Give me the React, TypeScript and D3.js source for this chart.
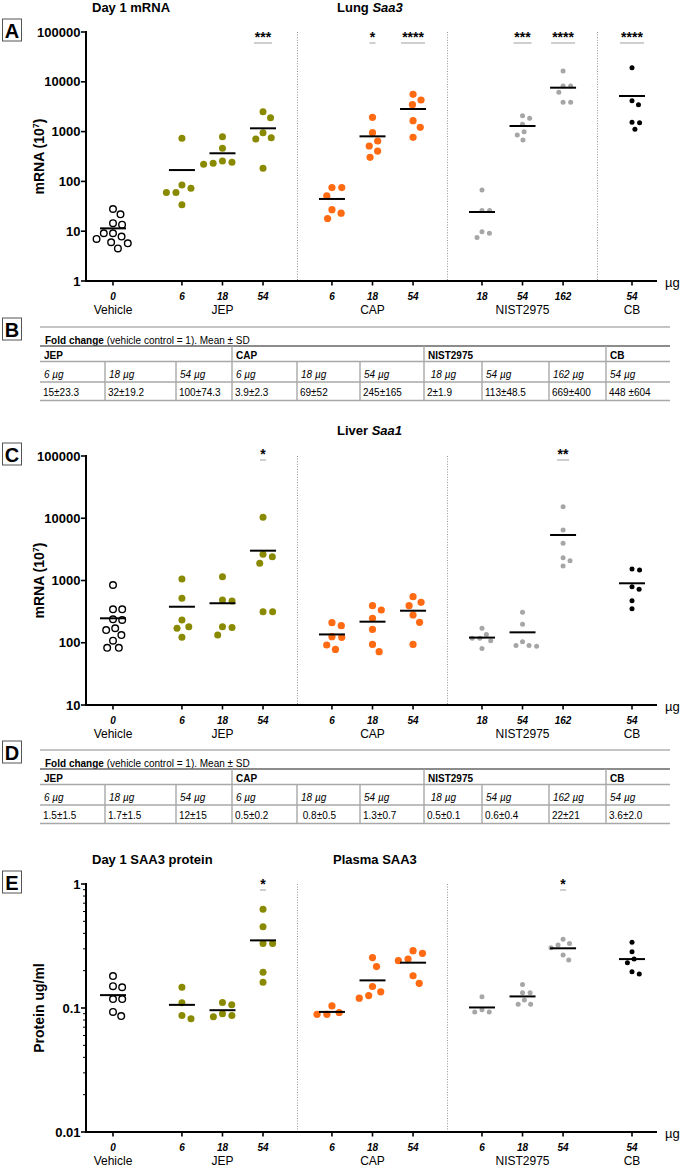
import React from 'react';
import * as d3 from 'd3';

// ---------- data ----------
const groups = ['Vehicle', 'JEP', 'CAP', 'NIST2975', 'CB'];
const mrnaDoses = [['0'], ['6', '18', '54'], ['6', '18', '54'], ['18', '54', '162'], ['54']];
const plasmaDoses = [['0'], ['6', '18', '54'], ['6', '18', '54'], ['6', '18', '54'], ['54']];

// Panel A: Lung Saa3 mRNA (10^7)
const lungVehicle = [27.9, 21.8, 13.5, 14.5, 9.1, 9.1, 7.8, 7.0, 6.0, 5.7, 4.5];
const lungJEP6 = [733, 85, 60, 60, 73, 34];
const lungJEP18 = [790, 461, 242, 220, 231, 257];
const lungJEP54 = [2512, 1905, 951, 755, 710, 183];
const lungCAP6 = [75, 75, 51, 27, 23, 18];
const lungCAP18 = [1936, 951, 647, 514, 407, 305];
const lungCAP54 = [5610, 4315, 3470, 1656, 1219, 768];
const lungNIST18 = [67, 26, 26, 9.8, 9.1, 7.5];
const lungNIST54 = [2088, 1849, 1403, 995, 855, 678];
const lungNIST162 = [16480, 8240, 8240, 6150, 3870, 3870];
const lungCB54 = [19190, 4170, 3470, 1538, 1510, 1112];
const lungMeans = [11.4, 169, 367, 1164, 44.4, 803, 2843, 24.3, 1295, 7620, 5190];
const lungStars = ['', '', '', '***', '', '*', '****', '', '***', '****', '****'];

// Panel C: Liver Saa1 mRNA (10^7)
const liverVehicle = [847, 344, 344, 238, 232, 171, 160, 133, 108, 83, 83];
const liverJEP6 = [1057, 518, 232, 181, 171, 122];
const liverJEP18 = [1151, 486, 469, 181, 175, 133];
const liverJEP54 = [10350, 2636, 2415, 1888, 315, 315];
const liverCAP6 = [210, 188, 125, 122, 92, 78];
const liverCAP18 = [394, 336, 247, 164, 94, 72];
const liverCAP54 = [549, 446, 394, 279, 213, 94];
const liverNIST18 = [171, 136, 118, 118, 108, 81];
const liverNIST54 = [308, 198, 104, 90, 88, 90];
const liverNIST162 = [15350, 6470, 3955, 2323, 2080, 1710];
const liverCB54 = [1531, 1475, 796, 721, 474, 352];
const liverMeans = [247, 379, 431, 3013, 136, 218, 327, 121, 147, 5380, 902];
const liverStars = ['', '', '', '*', '', '', '', '', '', '**', ''];

// Panel E: Plasma SAA3 protein (ug/ml)
const plasmaVehicle = [0.181, 0.15, 0.147, 0.118, 0.118, 0.093, 0.086];
const plasmaJEP6 = [0.147, 0.11, 0.082, 0.087];
const plasmaJEP18 = [0.111, 0.106, 0.085, 0.087, 0.09];
const plasmaJEP54 = [0.625, 0.453, 0.332, 0.332, 0.194, 0.161];
const plasmaCAP6 = [0.104, 0.092, 0.089, 0.089];
const plasmaCAP18 = [0.255, 0.216, 0.149, 0.135, 0.126, 0.12];
const plasmaCAP54 = [0.29, 0.276, 0.248, 0.241, 0.182, 0.158];
const plasmaNIST6 = [0.123, 0.097, 0.093, 0.093];
const plasmaNIST18 = [0.155, 0.133, 0.133, 0.116, 0.107, 0.107];
const plasmaNIST54 = [0.358, 0.332, 0.322, 0.306, 0.268, 0.244];
const plasmaCB54 = [0.339, 0.284, 0.248, 0.232, 0.196, 0.188];
const plasmaMeans = [0.127, 0.106, 0.096, 0.351, 0.093, 0.167, 0.232, 0.101, 0.124, 0.303, 0.248];
const plasmaStars = ['', '', '', '*', '', '', '', '', '', '*', ''];

const mrnaTicks = [1, 10, 100, 1000, 10000, 100000];
const mrnaTickLabels = ['1', '10', '100', '1000', '10000', '100000'];
const liverTicks = [10, 100, 1000, 10000, 100000];
const liverTickLabels = ['10', '100', '1000', '10000', '100000'];
const plasmaTicks = [0.01, 0.1, 1];
const plasmaTickLabels = ['0.01', '0.1', '1'];

// Fold-change tables
const tableGroups = ['JEP', 'CAP', 'NIST2975', 'CB'];
const tableGroupSizes = [3, 3, 3, 1];
const tableDoseLabels = ['6 µg', '18 µg', '54 µg', '6 µg', '18 µg', '54 µg', ' 18 µg', '54 µg', '162 µg', '54 µg'];
const foldLung = ['15±23.3', '32±19.2', '100±74.3', '3.9±2.3', '69±52', '245±165', '2±1.9', '113±48.5', '669±400', '448 ±604'];
const foldLiver = ['1.5±1.5', '1.7±1.5', '12±15', '0.5±0.2', ' 0.8±0.5', '1.3±0.7', '0.5±0.1', '0.6±0.4', '22±21', '3.6±2.0'];

// ---------- style / layout ----------
const FONT = '"Liberation Sans", Arial, Helvetica, sans-serif';
const GAP = 1.7;
const OLIVE = '#8a8a00';
const ORANGE = '#ff6a13';
const GRAY = '#a6a6a6';
const groupStyle = [
  { fill: '#fff', stroke: '#000', sw: 1.4, r: 3.3 },
  { fill: OLIVE, stroke: 'none', sw: 0, r: 3.5 },
  { fill: ORANGE, stroke: 'none', sw: 0, r: 3.6 },
  { fill: GRAY, stroke: 'none', sw: 0, r: 2.5 },
  { fill: '#000', stroke: 'none', sw: 0, r: 2.5 },
];

function computeSlots(doses: string[][]) {
  const out: { g: number; dose: string; pos: number }[] = [];
  let pos = 0;
  doses.forEach((ds, g) => {
    if (g > 0) pos += GAP;
    ds.forEach((d, k) => {
      if (k > 0) pos += 1;
      out.push({ g, dose: d, pos });
    });
  });
  return out;
}

function swarm(ys: number[], minD: number): number[] {
  const idx = ys.map((_, i) => i).sort((a, b) => ys[a] - ys[b]);
  const placed: { x: number; y: number }[] = [];
  const out = new Array(ys.length).fill(0);
  for (const i of idx) {
    const yv = ys[i];
    const cands = [0];
    for (const p of placed) {
      const dy = Math.abs(p.y - yv);
      if (dy < minD) {
        const dx = Math.sqrt(minD * minD - dy * dy);
        cands.push(p.x + dx, p.x - dx);
      }
    }
    cands.sort((a, b) => Math.abs(a) - Math.abs(b));
    let chosen = 0;
    for (const c of cands) {
      if (placed.every((p) => (p.x - c) ** 2 + (p.y - yv) ** 2 >= minD * minD - 0.01)) {
        chosen = c;
        break;
      }
    }
    placed.push({ x: chosen, y: yv });
    out[i] = chosen;
  }
  return out;
}

type PanelProps = {
  top: number;
  bottom: number;
  domain: [number, number];
  ticks: number[];
  tickLabels: string[];
  minor?: boolean;
  series: number[][];
  means: number[];
  stars: string[];
  doses: string[][];
  seps: number[];
  sigLineY: number;
  yLabel: React.ReactNode;
  letter: string;
};

function ScatterPanel(p: PanelProps) {
  const y = d3.scaleLog().domain(p.domain).range([p.bottom, p.top]);
  const x = d3.scaleLinear().domain([0, 12.8]).range([113, 632]);
  const slots = computeSlots(p.doses);
  const axisL = 86;
  const axisR = 657;
  const minorTicks: number[] = [];
  if (p.minor) {
    for (let d = p.domain[0]; d < p.domain[1] * 0.99; d *= 10) {
      for (let k = 2; k <= 9; k++) minorTicks.push(d * k);
    }
  }
  const groupCenters = p.doses.map((_, g) => {
    const ps = slots.filter((s) => s.g === g).map((s) => s.pos);
    return d3.mean(ps) as number;
  });
  const sepPos = p.seps.map((g) => {
    const last = slots.filter((s) => s.g === g).slice(-1)[0].pos;
    const first = slots.filter((s) => s.g === g + 1)[0].pos;
    return (last + first) / 2;
  });
  const midY = (p.top + p.bottom) / 2;
  const letterTop = p.top - 13;
  return (
    <g fontFamily={FONT}>
      <rect x={2.5} y={letterTop} width={19} height={22} fill="#fff" stroke="#555" strokeWidth={1} />
      <text x={12} y={letterTop + 18.5} textAnchor="middle" fontSize={20} fontWeight="bold">
        {p.letter}
      </text>
      {sepPos.map((s, i) => (
        <line key={'sep' + i} x1={x(s)} x2={x(s)} y1={p.top} y2={p.bottom} stroke="#777" strokeWidth={0.8} strokeDasharray="1,1.6" />
      ))}
      <line x1={axisL} x2={axisL} y1={p.top - 1} y2={p.bottom + 1} stroke="#000" strokeWidth={2} />
      {p.ticks.map((t, i) => (
        <g key={'yt' + i}>
          <line x1={axisL - 5} x2={axisL} y1={y(t)} y2={y(t)} stroke="#000" strokeWidth={1.6} />
          <text x={axisL - 5.5} y={y(t) + 4.6} textAnchor="end" fontSize={13} fontWeight="bold">
            {p.tickLabels[i]}
          </text>
        </g>
      ))}
      {minorTicks.map((t, i) => (
        <line key={'mt' + i} x1={axisL - 3} x2={axisL} y1={y(t)} y2={y(t)} stroke="#000" strokeWidth={1} />
      ))}
      <text transform={`translate(44,${midY}) rotate(-90)`} textAnchor="middle" fontSize={14} fontWeight="bold">
        {p.yLabel}
      </text>
      <line x1={axisL - 1} x2={axisR} y1={p.bottom} y2={p.bottom} stroke="#000" strokeWidth={2} />
      <text x={665} y={p.bottom + 5.5} fontSize={13}>
        µg
      </text>
      {slots.map((s, i) => (
        <g key={'xt' + i}>
          <line x1={x(s.pos)} x2={x(s.pos)} y1={p.bottom} y2={p.bottom + 4.5} stroke="#000" strokeWidth={1.6} />
          <text x={x(s.pos)} y={p.bottom + 19} textAnchor="middle" fontSize={10} fontWeight="bold" fontStyle="italic">
            {s.dose}
          </text>
        </g>
      ))}
      {groups.map((gname, g) => (
        <text key={'gl' + g} x={x(groupCenters[g])} y={p.bottom + 32.5} textAnchor="middle" fontSize={12}>
          {gname}
        </text>
      ))}
      {slots.map((s, i) => {
        const st = groupStyle[s.g];
        const vals = p.series[i];
        const ys = vals.map((v) => y(v));
        const offs = swarm(ys, st.r * 2 + 2.6);
        return (
          <g key={'pts' + i}>
            {vals.map((v, j) => (
              <circle key={j} cx={x(s.pos) + offs[j]} cy={ys[j]} r={st.r} fill={st.fill} stroke={st.stroke} strokeWidth={st.sw} />
            ))}
            <line x1={x(s.pos) - 13} x2={x(s.pos) + 13} y1={y(p.means[i])} y2={y(p.means[i])} stroke="#000" strokeWidth={2} />
          </g>
        );
      })}
      {slots.map((s, i) =>
        p.stars[i] ? (
          <g key={'sig' + i}>
            <text x={x(s.pos)} y={p.sigLineY - 1} textAnchor="middle" fontSize={14} fontWeight="bold">
              {p.stars[i]}
            </text>
            <line
              x1={x(s.pos) - p.stars[i].length * 3}
              x2={x(s.pos) + p.stars[i].length * 3}
              y1={p.sigLineY}
              y2={p.sigLineY}
              stroke="#cfcfcf"
              strokeWidth={2}
            />
          </g>
        ) : null
      )}
    </g>
  );
}

function FoldTable({ L, values, letter }: { L: number; values: string[]; letter: string }) {
  const cols = [40, 105, 176, 232, 297, 360, 424, 482, 549, 606, 670];
  const groupStarts: number[] = [];
  let acc = 0;
  tableGroupSizes.forEach((n) => {
    groupStarts.push(acc);
    acc += n;
  });
  const headerLine = L + 15.5;
  const unitLine = L + 36;
  const bottomLine = L + 54.5;
  const lineCol = '#a8a8a8';
  return (
    <g fontFamily={FONT} fontSize={10}>
      <rect x={2.5} y={L - 28} width={19} height={22} fill="#fff" stroke="#555" strokeWidth={1} />
      <text x={12} y={L - 9.5} textAnchor="middle" fontSize={20} fontWeight="bold">
        {letter}
      </text>
      <line x1={40} x2={670} y1={L - 19} y2={L - 19} stroke="#c4c4c4" strokeWidth={2} />
      <text x={45} y={L - 2.5}>
        <tspan fontWeight="bold">Fold change</tspan> (vehicle control = 1). Mean ± SD
      </text>
      <line x1={40} x2={670} y1={L} y2={L} stroke="#666" strokeWidth={1.4} />
      <line x1={40} x2={670} y1={headerLine} y2={headerLine} stroke={lineCol} strokeWidth={1.4} />
      <line x1={40} x2={670} y1={unitLine} y2={unitLine} stroke={lineCol} strokeWidth={1.4} />
      <line x1={40} x2={670} y1={bottomLine} y2={bottomLine} stroke={lineCol} strokeWidth={1.4} />
      {cols.slice(1, -1).map((c, i) => {
        const isGroup = groupStarts.includes(i + 1);
        return (
          <line key={'v' + i} x1={c} x2={c} y1={isGroup ? L : headerLine} y2={bottomLine} stroke={lineCol} strokeWidth={1.4} />
        );
      })}
      {tableGroups.map((gname, g) => (
        <text key={'h' + g} x={cols[groupStarts[g]] + 4} y={L + 12.5} fontWeight="bold">
          {gname}
        </text>
      ))}
      {tableDoseLabels.map((d, i) => (
        <text key={'d' + i} x={cols[i] + 4} y={L + 31.5} fontStyle="italic" style={{ whiteSpace: 'pre' }}>
          {d}
        </text>
      ))}
      {values.map((v, i) => (
        <text key={'val' + i} x={cols[i] + 3} y={L + 50} style={{ whiteSpace: 'pre' }}>
          {v}
        </text>
      ))}
    </g>
  );
}

export default function App() {
  const lungSeries = [lungVehicle, lungJEP6, lungJEP18, lungJEP54, lungCAP6, lungCAP18, lungCAP54, lungNIST18, lungNIST54, lungNIST162, lungCB54];
  const liverSeries = [liverVehicle, liverJEP6, liverJEP18, liverJEP54, liverCAP6, liverCAP18, liverCAP54, liverNIST18, liverNIST54, liverNIST162, liverCB54];
  const plasmaSeries = [plasmaVehicle, plasmaJEP6, plasmaJEP18, plasmaJEP54, plasmaCAP6, plasmaCAP18, plasmaCAP54, plasmaNIST6, plasmaNIST18, plasmaNIST54, plasmaCB54];
  const mrnaLabel = (
    <>
      mRNA (10<tspan baselineShift="super" fontSize={9}>7</tspan>)
    </>
  );
  return (
    <svg width={685} height={1167} style={{ position: 'absolute', left: 0, top: 0, background: '#fff' }}>
      <rect x={0} y={0} width={685} height={1167} fill="#fff" />
      <g fontFamily={FONT} fontSize={13} fontWeight="bold">
        <text x={92} y={12}>Day 1 mRNA</text>
        <text x={337} y={12}>
          Lung <tspan fontStyle="italic">Saa3</tspan>
        </text>
        <text x={337} y={435}>
          Liver <tspan fontStyle="italic">Saa1</tspan>
        </text>
        <text x={92} y={864}>Day 1 SAA3 protein</text>
        <text x={333} y={864}>Plasma SAA3</text>
      </g>
      <ScatterPanel
        top={32}
        bottom={281}
        domain={[1, 100000]}
        ticks={mrnaTicks}
        tickLabels={mrnaTickLabels}
        series={lungSeries}
        means={lungMeans}
        stars={lungStars}
        doses={mrnaDoses}
        seps={[1, 2, 3]}
        sigLineY={43}
        yLabel={mrnaLabel}
        letter="A"
      />
      <FoldTable L={346} values={foldLung} letter="B" />
      <ScatterPanel
        top={456}
        bottom={705}
        domain={[10, 100000]}
        ticks={liverTicks}
        tickLabels={liverTickLabels}
        series={liverSeries}
        means={liverMeans}
        stars={liverStars}
        doses={mrnaDoses}
        seps={[1, 2]}
        sigLineY={460}
        yLabel={mrnaLabel}
        letter="C"
      />
      <FoldTable L={769} values={foldLiver} letter="D" />
      <ScatterPanel
        top={884}
        bottom={1132}
        domain={[0.01, 1]}
        ticks={plasmaTicks}
        tickLabels={plasmaTickLabels}
        minor
        series={plasmaSeries}
        means={plasmaMeans}
        stars={plasmaStars}
        doses={plasmaDoses}
        seps={[1, 2]}
        sigLineY={890}
        yLabel="Protein ug/ml"
        letter="E"
      />
    </svg>
  );
}
